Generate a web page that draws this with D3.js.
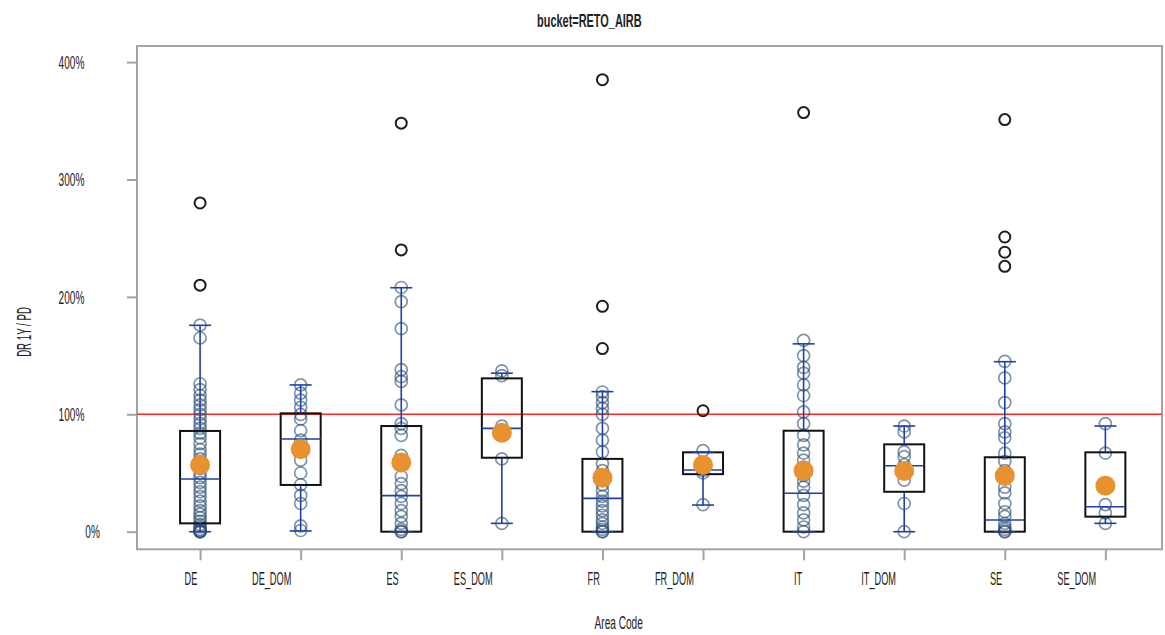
<!DOCTYPE html>
<html>
<head>
<meta charset="utf-8">
<script src="https://cdn.jsdelivr.net/npm/d3@7"></script>
<style>
  html, body { margin: 0; padding: 0; background: #fff; }
  svg { display: block; }
  text { font-family: "Liberation Sans", Arial, sans-serif; fill: #222; }
</style>
</head>
<body>
<svg id="chart" width="1165" height="635"></svg>
<script>
// ---- data (values in %) ----
const categories = ["DE","DE_DOM","ES","ES_DOM","FR","FR_DOM","IT","IT_DOM","SE","SE_DOM"];
const yTicks = [0, 100, 200, 300, 400];
const referenceLine = 100;

const pointsDE     = [176,165,126,121,116,112,108,104,100,96,92,88,84,80,75,70,66,62,58,54,50,46,42,38,34,30,26,22,18,15,12,9,6,4,2,1,0,0,0];
const pointsDE_DOM = [125,118,112,106,100,96,86,78,70,61,50,40,31,24,5,1];
const pointsES     = [208,196,173,138,132,128,108,92,88,82,65,59,47,41,35,30,24,18,13,7,2,0,0];
const pointsES_DOM = [137,133,90,62,7];
const pointsFR     = [119,115,110,105,100,88,78,68,58,52,46,40,35,30,26,22,18,14,10,7,4,2,0,0];
const pointsFR_DOM = [69,58,52,50,23];
const pointsIT     = [163,150,140,135,125,116,102,92,82,74,67,61,55,48,43,38,31,23,16,10,4,0];
const pointsIT_DOM = [90,85,68,64,57,44,24,0];
const pointsSE     = [145,131,110,92,85,80,67,60,52,45,38,33,24,17,13,7,4,2,0,0];
const pointsSE_DOM = [92,67,23,16,7];

const outliersDE = [280,210];
const outliersES = [348,240];
const outliersFR = [385,192,156];
const outliersFR_DOM = [103];
const outliersIT = [357];
const outliersSE = [351,251,238,226];

const q1Values     = [7.1, 39.8, 0, 63, 0, 49, 0, 34, 0, 12.8];
const medianValues = [44.9, 79, 30.7, 88, 28.4, 52.5, 32.7, 56.2, 10, 21.3];
const q3Values     = [85.8, 100.8, 90, 130.6, 62, 67.6, 86, 74.4, 63.4, 67.6];
const meanValues   = [56.8, 70.2, 59, 84.3, 46, 56.8, 52, 51.7, 47.7, 39.2];
const whiskerLow   = [0, 0.6, 0, 7.1, 0, 22.7, 0, 0, 0, 7.1];
const whiskerHigh  = [175.8, 125, 207.8, 135, 119.3, 67.6, 160, 90, 144.8, 90];

const pointsByCat = {
  DE: pointsDE, DE_DOM: pointsDE_DOM, ES: pointsES, ES_DOM: pointsES_DOM,
  FR: pointsFR, FR_DOM: pointsFR_DOM, IT: pointsIT, IT_DOM: pointsIT_DOM,
  SE: pointsSE, SE_DOM: pointsSE_DOM
};
const outliersByCat = {
  DE: outliersDE, ES: outliersES, FR: outliersFR, FR_DOM: outliersFR_DOM,
  IT: outliersIT, SE: outliersSE
};

// ---- layout ----
const plotLeft = 137, plotRight = 1162, plotTop = 46, plotBottom = 549.3;
const svg = d3.select("#chart");

const x = d3.scalePoint().domain(categories).range([plotLeft, plotRight])
  .padding(0.595).align(0.527);
const y = d3.scaleLinear().domain([-15, 413.7]).range([plotBottom, plotTop]);

// compress text along its own direction about its start point
function squeeze(sel, sx, sy) {
  sel.each(function() {
    const w = this.getComputedTextLength();
    const anchor = getComputedStyle(this).textAnchor || "start";
    const tx = +this.getAttribute("x") || 0;
    const ty = +this.getAttribute("y") || 0;
    const start = anchor === "end" ? tx - w : anchor === "middle" ? tx - w / 2 : tx;
    this.setAttribute("transform",
      `translate(${start},${ty}) scale(${sx},${sy}) translate(${-start},${-ty})`);
  });
}

// frame
svg.append("rect")
  .attr("x", plotLeft).attr("y", plotTop)
  .attr("width", plotRight - plotLeft).attr("height", plotBottom - plotTop)
  .attr("fill", "none").attr("stroke", "#a3a3a3").attr("stroke-width", 2);

// y axis
const yAxis = svg.append("g")
  .attr("transform", `translate(${plotLeft},0)`)
  .call(d3.axisLeft(y).tickValues(yTicks).tickSize(10).tickPadding(7)
    .tickFormat(d => d + "%"));
yAxis.select(".domain").remove();
yAxis.selectAll(".tick line").attr("stroke", "#a3a3a3").attr("stroke-width", 2);
yAxis.selectAll(".tick text")
  .attr("font-size", 24).attr("fill", "#1a1a1a")
  .style("font-family", '"Liberation Sans", Arial, sans-serif');
squeeze(yAxis.selectAll(".tick text"), 0.42, 0.8);

// x axis
const xAxis = svg.append("g")
  .attr("transform", `translate(0,${plotBottom})`)
  .call(d3.axisBottom(x).tickSize(11));
xAxis.select(".domain").remove();
xAxis.selectAll(".tick line").attr("stroke", "#a3a3a3").attr("stroke-width", 2);
xAxis.selectAll(".tick text")
  .attr("y", 36).attr("dy", 0)
  .attr("font-size", 23).attr("fill", "#1a1a1a")
  .style("font-family", '"Liberation Sans", Arial, sans-serif');
squeeze(xAxis.selectAll(".tick text"), 0.4, 0.8);

// reference line
svg.append("line")
  .attr("x1", plotLeft).attr("x2", plotRight)
  .attr("y1", y(referenceLine)).attr("y2", y(referenceLine))
  .attr("stroke", "#ff2626").attr("stroke-width", 1.6);

const boxW = 40, capW = 22;

const groups = svg.append("g").selectAll("g")
  .data(categories.map((c, i) => ({
    cat: c, pts: pointsByCat[c] || [], outs: outliersByCat[c] || [],
    q1: q1Values[i], med: medianValues[i], q3: q3Values[i],
    mean: meanValues[i], lo: whiskerLow[i], hi: whiskerHigh[i]
  })))
  .join("g")
  .attr("transform", d => `translate(${x(d.cat)},0)`);

// points
groups.selectAll("circle.pt")
  .data(d => d.pts)
  .join("circle").attr("class", "pt")
  .attr("cx", 0).attr("cy", v => y(v)).attr("r", 6)
  .attr("fill", "none").attr("stroke", "#2a4f72")
  .attr("stroke-opacity", 0.6).attr("stroke-width", 1.7);

// outliers
groups.selectAll("circle.out")
  .data(d => d.outs)
  .join("circle").attr("class", "out")
  .attr("cx", 0).attr("cy", v => y(v)).attr("r", 5.5)
  .attr("fill", "none").attr("stroke", "#1e1e1e").attr("stroke-width", 2);

// box
groups.append("rect")
  .attr("x", -boxW / 2).attr("width", boxW)
  .attr("y", d => y(d.q3)).attr("height", d => y(d.q1) - y(d.q3))
  .attr("fill", "none").attr("stroke", "#111").attr("stroke-width", 2);

const blue = "#1f40a6";
// whiskers
groups.append("line")
  .attr("x1", 0).attr("x2", 0)
  .attr("y1", d => y(d.hi)).attr("y2", d => y(d.q3))
  .attr("stroke", blue).attr("stroke-width", 1.6);
groups.append("line")
  .attr("x1", 0).attr("x2", 0)
  .attr("y1", d => y(d.q1)).attr("y2", d => y(d.lo))
  .attr("stroke", blue).attr("stroke-width", 1.6);
groups.append("line")
  .attr("x1", -capW / 2).attr("x2", capW / 2)
  .attr("y1", d => y(d.hi)).attr("y2", d => y(d.hi))
  .attr("stroke", blue).attr("stroke-width", 1.6);
groups.append("line")
  .attr("x1", -capW / 2).attr("x2", capW / 2)
  .attr("y1", d => y(d.lo)).attr("y2", d => y(d.lo))
  .attr("stroke", blue).attr("stroke-width", 1.6);
// median
groups.append("line")
  .attr("x1", -boxW / 2).attr("x2", boxW / 2)
  .attr("y1", d => y(d.med)).attr("y2", d => y(d.med))
  .attr("stroke", blue).attr("stroke-width", 1.6);
// mean
groups.append("circle")
  .attr("cx", 0).attr("cy", d => y(d.mean)).attr("r", 10)
  .attr("fill", "#e8912f");

// title
const title = svg.append("text")
  .attr("x", (plotLeft + plotRight) / 2).attr("y", 27)
  .attr("text-anchor", "middle").attr("font-size", 23.5).attr("font-weight", "bold")
  .text("bucket=RETO_AIRB");
squeeze(title, 0.465, 0.78);

// x label
const xl = svg.append("text")
  .attr("x", (plotLeft + plotRight) / 2).attr("y", 629)
  .attr("text-anchor", "middle").attr("font-size", 23)
  .text("Area Code");
squeeze(xl, 0.44, 0.82);

// y label
const yl = svg.append("g")
  .attr("transform", `translate(31,${(plotTop + plotBottom) / 2}) rotate(-90)`)
  .append("text")
  .attr("x", 0).attr("y", 0)
  .attr("text-anchor", "middle").attr("font-size", 23)
  .text("DR 1Y / PD");
squeeze(yl, 0.42, 0.85);
</script>
</body>
</html>
